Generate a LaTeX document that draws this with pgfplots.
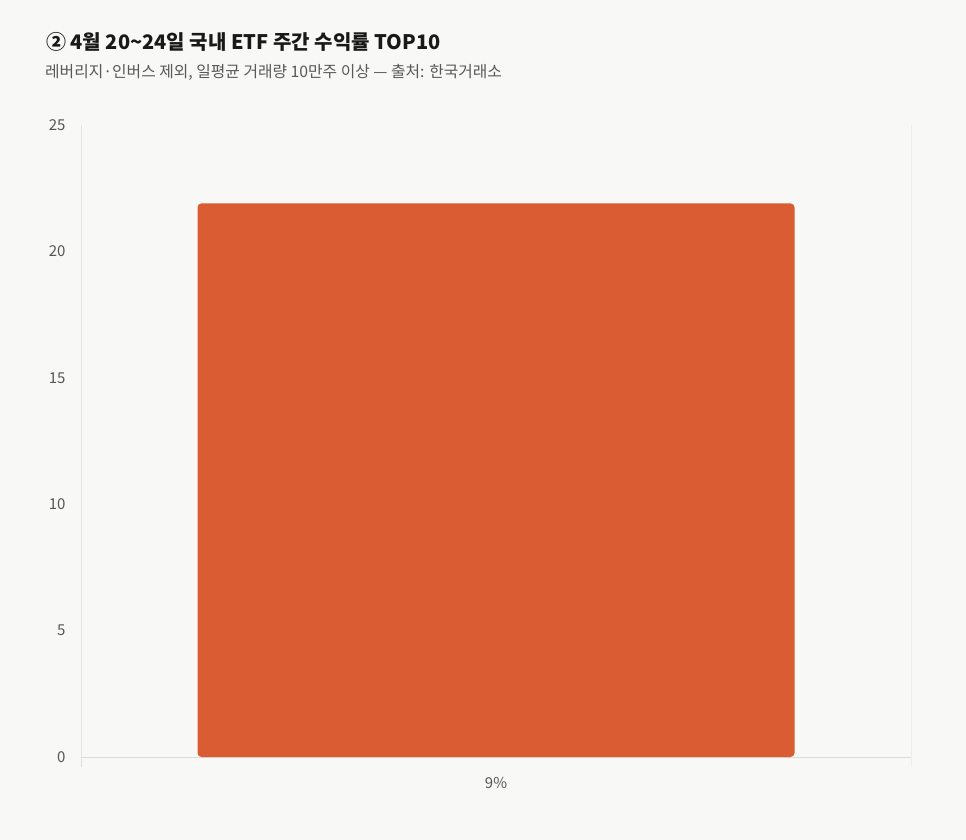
\documentclass[border=0pt]{standalone}
\usepackage{fontspec}
\setmainfont{Noto Sans CJK KR}
\usepackage{pgfplots}
\pgfplotsset{compat=1.18}
\definecolor{bg}{HTML}{F8F8F6}
\definecolor{barc}{HTML}{D95C33}
\definecolor{ticktxt}{HTML}{555555}
\definecolor{axl}{HTML}{DCDCDA}
\begin{document}
\begin{tikzpicture}[x=1pt,y=-1pt]
\fill[bg] (0,0) rectangle (966,840);
% title and subtitle
\node[anchor=base west,inner sep=0pt,font=\fontsize{20}{22}\selectfont\bfseries,text=black!90] at (46,50) {② 4월 20\textasciitilde 24일 국내 ETF 주간 수익률 TOP10};
\node[anchor=base west,inner sep=0pt,font=\fontsize{15.8}{18}\selectfont,text=black!65] at (45,78) {레버리지·인버스 제외, 일평균 거래량 10만주 이상 — 출처: 한국거래소};
\begin{axis}[
  at={(81pt,-757pt)}, anchor=south west,
  scale only axis, width=830pt, height=632pt,
  xmin=-0.5, xmax=0.5, ymin=0, ymax=25,
  axis line style={draw=none}, clip=false,
  ytick={0,5,10,15,20,25},
  xtick={0}, xticklabels={9\%},
  major tick length=0pt, tick style={draw=none},
  /pgf/number format/assume math mode=true,
  ticklabel style={font=\fontsize{15}{17}\selectfont, text=ticktxt},
  yticklabel style={xshift=-12pt},
  xticklabel style={yshift=-17pt},
  ybar, bar width=597pt,
]
\draw[axl, line width=0.8pt] (rel axis cs:0,1) -- (rel axis cs:0,0) -- ++(0pt,-10pt);
\draw[axl!50, line width=0.8pt] (rel axis cs:1,1) -- (rel axis cs:1,0) -- ++(0pt,-10pt);
\draw[axl, line width=0.8pt] (rel axis cs:0,0) -- (rel axis cs:1,0);
\addplot[fill=barc, draw=none, rounded corners=4pt] coordinates {(0,21.9)};
\end{axis}
\end{tikzpicture}
\end{document}
